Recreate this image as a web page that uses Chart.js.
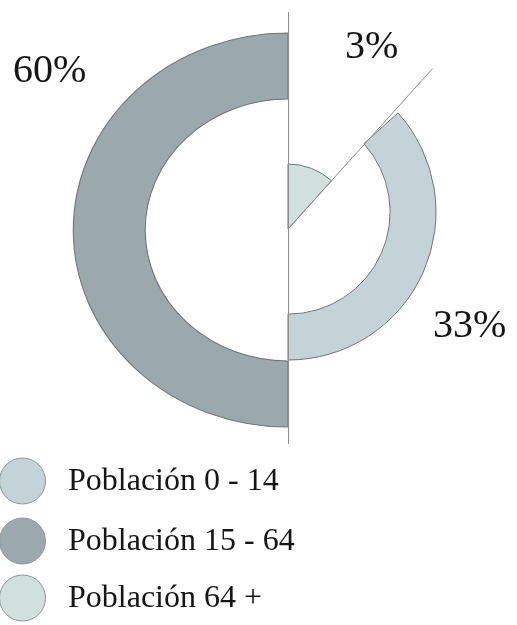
<!DOCTYPE html>
<html lang="es">
<head>
<meta charset="utf-8">
<title>Población por edades</title>
<script src="https://cdn.jsdelivr.net/npm/chart.js@4.4.1/dist/chart.umd.min.js"></script>
<style>
  html, body { margin: 0; padding: 0; background: #fff; }
  #stage { position: relative; width: 517px; height: 625px; }
  #stage canvas { position: absolute; left: 0; top: 0; }
</style>
</head>
<body>
<div id="stage">
  <canvas id="ring-adultos" width="517" height="625"></canvas>
  <canvas id="ring-ninos" width="517" height="625"></canvas>
  <canvas id="wedge-mayores" width="517" height="625"></canvas>
</div>
<script>
'use strict';

const categories = ['Población 0 - 14', 'Población 15 - 64', 'Población 64 +'];
const shares = [33, 60, 3];
// unpainted rest of each ring, so every arc keeps to its own side
const blanks = [57, 60, 22.7];
const colors = ['#c4d3d7', '#9ba8ac', '#d0e0dc'];

const EDGE = '#6f7679';
const TEXT = '#151515';
const SERIF = '"Liberation Serif", "DejaVu Serif", serif';

// the big ring is drawn a bit wider than tall
const stretchX = {
    id: 'stretchX',
    beforeDatasetsDraw(chart) {
        const arc = chart.getDatasetMeta(0).data[0];
        const ctx = chart.ctx;
        ctx.save();
        ctx.translate(arc.x, 0);
        ctx.scale(1.09, 1);
        ctx.translate(-arc.x, 0);
    },
    afterDatasetsDraw(chart) {
        chart.ctx.restore();
    }
};

// axis lines, percentage labels and the legend on top of everything
const overlay = {
    id: 'overlay',
    afterDraw(chart) {
        const ctx = chart.ctx;
        const arc = chart.getDatasetMeta(0).data[0];

        ctx.save();
        ctx.strokeStyle = '#8e8e8e';
        ctx.lineWidth = 1;
        ctx.beginPath();
        ctx.moveTo(arc.x + 0.5, 12);
        ctx.lineTo(arc.x + 0.5, 444);
        ctx.moveTo(arc.x, arc.y);
        ctx.lineTo(arc.x + Math.cos(arc.endAngle) * 216, arc.y + Math.sin(arc.endAngle) * 216);
        ctx.stroke();

        ctx.fillStyle = TEXT;
        ctx.textBaseline = 'alphabetic';
        ctx.textAlign = 'left';
        ctx.font = `40px ${SERIF}`;
        const labelAt = [[433, 337], [13, 82], [345, 58]];
        shares.forEach((v, i) => ctx.fillText(`${v}%`, labelAt[i][0], labelAt[i][1]));

        ctx.font = `32px ${SERIF}`;
        const rows = [481, 541, 598];
        categories.forEach((name, i) => {
            ctx.beginPath();
            ctx.arc(22.5, rows[i], 23, 0, Math.PI * 2);
            ctx.fillStyle = colors[i];
            ctx.fill();
            ctx.strokeStyle = '#8e9598';
            ctx.stroke();
            ctx.fillStyle = TEXT;
            ctx.fillText(name, 68, rows[i] + 9);
        });
        ctx.restore();
    }
};

function ringChart(canvasId, idx, opts) {
    return new Chart(document.getElementById(canvasId), {
        type: 'doughnut',
        data: {
            labels: [categories[idx], ''],
            datasets: [{
                data: [shares[idx], blanks[idx]],
                backgroundColor: [colors[idx], 'rgba(0,0,0,0)'],
                borderColor: [EDGE, 'rgba(0,0,0,0)'],
                borderWidth: [1, 0]
            }]
        },
        options: {
            responsive: false,
            animation: false,
            events: [],
            rotation: opts.rotation,
            radius: opts.radius,
            cutout: opts.cutout,
            layout: { padding: opts.padding },
            plugins: { legend: { display: false }, tooltip: { enabled: false } }
        },
        plugins: opts.plugins || []
    });
}

ringChart('ring-adultos', 1, {
    rotation: 180, radius: 197, cutout: '66.5%',
    padding: { left: 59, right: 0, top: 0, bottom: 165 },
    plugins: [stretchX]
});

ringChart('ring-ninos', 0, {
    rotation: 48, radius: 148, cutout: '69%',
    padding: { left: 59, right: 0, top: 0, bottom: 201 }
});

ringChart('wedge-mayores', 2, {
    rotation: 0, radius: 65, cutout: 0,
    padding: { left: 59, right: 0, top: 0, bottom: 167 },
    plugins: [overlay]
});
</script>
</body>
</html>
